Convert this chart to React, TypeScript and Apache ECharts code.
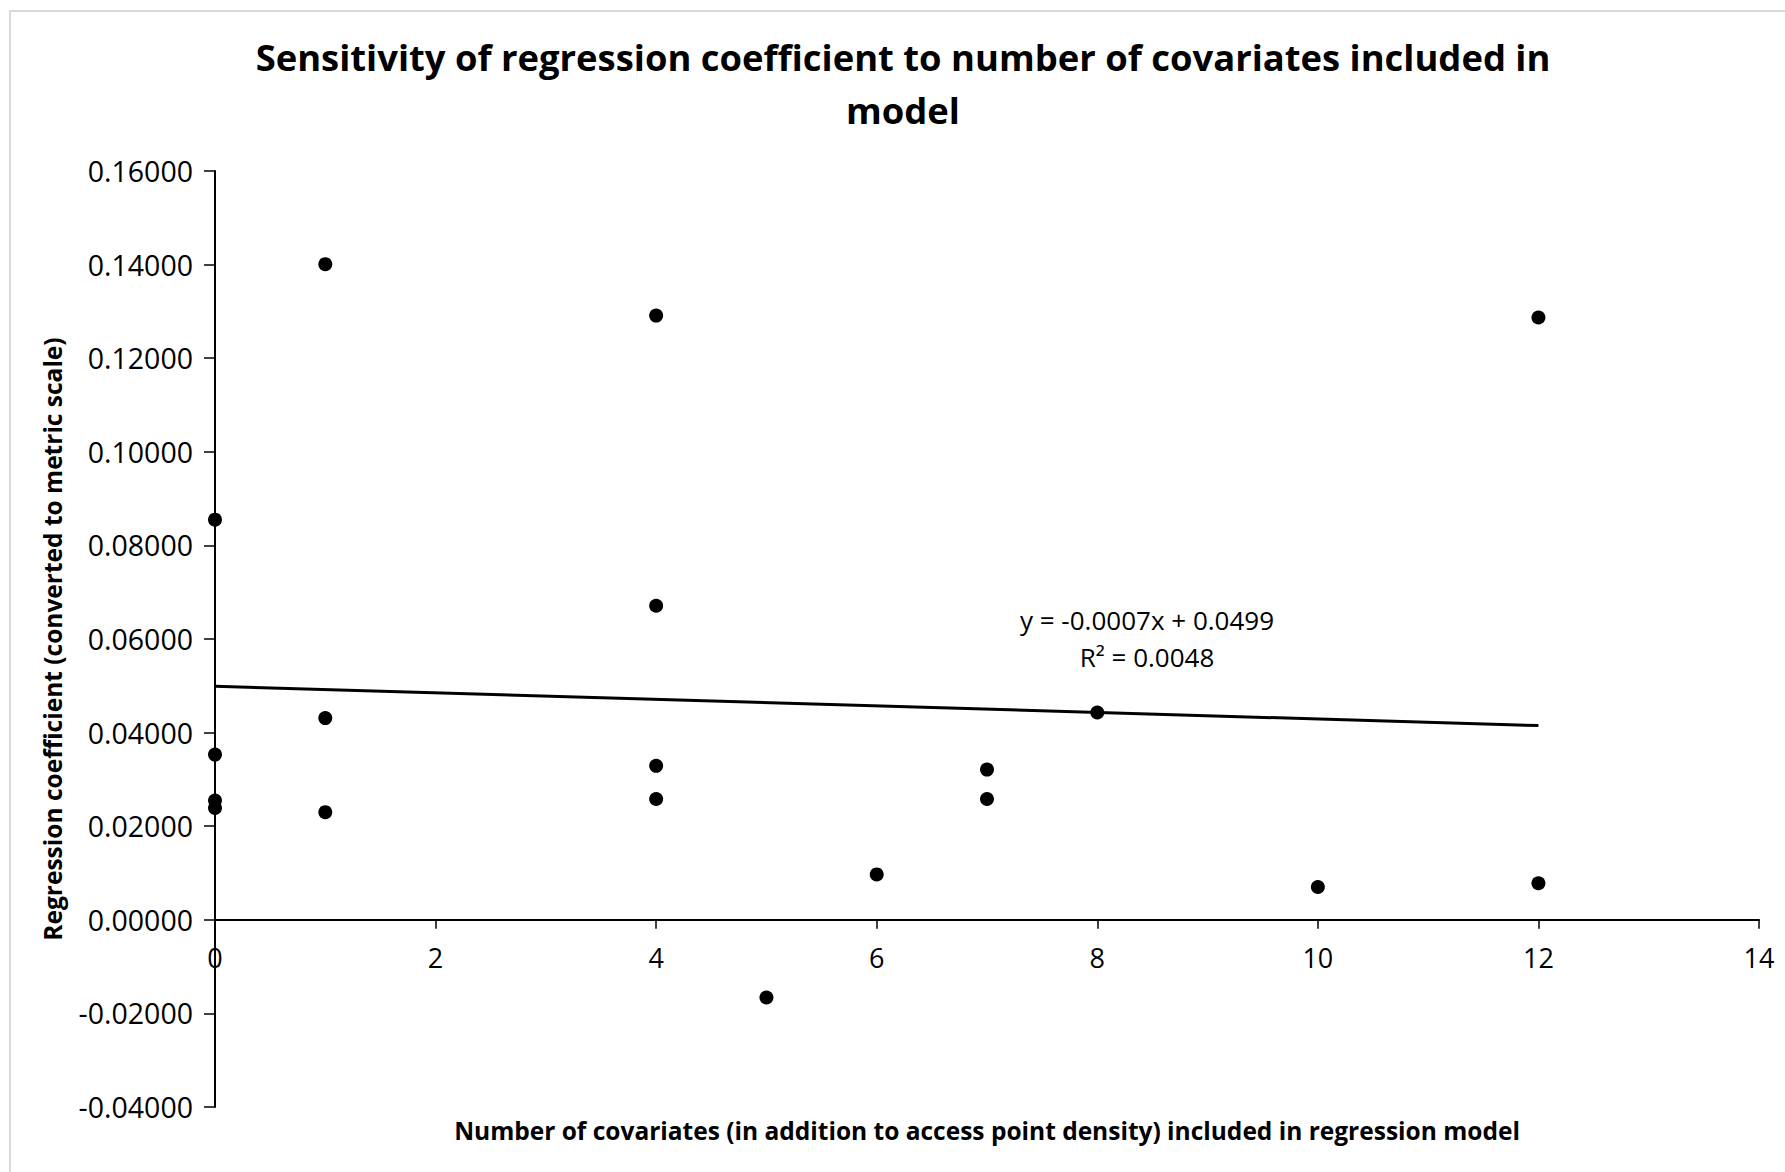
import React, { useEffect, useRef } from "react";
import * as echarts from "echarts";

const TITLE = "Sensitivity of regression coefficient to number of covariates included in\nmodel";
const X_NAME = "Number of covariates (in addition to access point density) included in regression model";
const Y_NAME = "Regression coefficient (converted to metric scale)";

const covariates = [0, 0, 0, 0, 1, 1, 1, 4, 4, 4, 4, 5, 6, 7, 7, 8, 10, 12, 12];
const coefficients = [
  0.0855, 0.0353, 0.0255, 0.0239,
  0.1401, 0.0431, 0.0230,
  0.1291, 0.0671, 0.0329, 0.0258,
  -0.0166,
  0.0097,
  0.0321, 0.0258,
  0.0443,
  0.0070,
  0.1287, 0.0078,
];

const Y_MIN = -0.04;
const Y_MAX = 0.16;
const Y_STEP = 0.02;
const X_MIN = 0;
const X_MAX = 14;
const X_STEP = 2;

const TREND_SLOPE = -0.0007;
const TREND_INTERCEPT = 0.0499;
const TREND_X = [0, 12];
const EQUATION_LINES = ["y = -0.0007x + 0.0499", "R² = 0.0048"];

const FONT = "'Open Sans', 'Noto Sans', sans-serif";

export default function App() {
  const ref = useRef<HTMLDivElement>(null);
  useEffect(() => {
    if (!ref.current) return;
    const chart = echarts.init(ref.current, undefined, { renderer: "svg" });
    const points = covariates.map((x, i) => [x, coefficients[i]]);
    const trend = TREND_X.map((x) => [x, TREND_INTERCEPT + TREND_SLOPE * x]);
    chart.setOption({
      animation: false,
      backgroundColor: "#ffffff",
      title: {
        text: TITLE,
        left: 898,
        top: 25,
        textAlign: "center",
        textStyle: {
          fontFamily: FONT,
          fontWeight: "bold",
          fontSize: 36.4,
          lineHeight: 53,
          color: "#000",
        },
      },
      graphic: [
        {
          type: "rect",
          shape: { x: 10, y: 11, width: 1800, height: 1200 },
          style: { fill: "none", stroke: "#d9d9d9", lineWidth: 2 },
          silent: true,
        },
        {
          type: "text",
          x: 1147,
          y: 620,
          style: {
            text: EQUATION_LINES[0],
            fontFamily: FONT,
            fontSize: 26,
            fill: "#000",
            align: "center",
            verticalAlign: "middle",
          },
        },
        {
          type: "text",
          x: 1147,
          y: 657,
          style: {
            text: EQUATION_LINES[1],
            fontFamily: FONT,
            fontSize: 26,
            fill: "#000",
            align: "center",
            verticalAlign: "middle",
          },
        },
      ],
      grid: {
        left: 215,
        right: 26,
        top: 171,
        bottom: 65,
        containLabel: false,
        outerBoundsMode: "none",
      },
      xAxis: {
        type: "value",
        min: X_MIN,
        max: X_MAX,
        interval: X_STEP,
        offset: 0,
        name: X_NAME,
        nameLocation: "middle",
        nameGap: 198,
        nameMoveOverlap: false,
        nameTextStyle: { fontFamily: FONT, fontWeight: "bold", fontSize: 24.5, color: "#000" },
        axisLine: { onZero: false, lineStyle: { color: "#000", width: 2 } },
        axisTick: { show: true, length: 9, lineStyle: { color: "#000", width: 1.5 } },
        axisLabel: { fontFamily: FONT, fontSize: 27, color: "#000", margin: 24 },
        splitLine: { show: false },
      },
      yAxis: {
        type: "value",
        min: Y_MIN,
        max: Y_MAX,
        interval: Y_STEP,
        name: Y_NAME,
        nameLocation: "middle",
        nameGap: 150,
        nameRotate: 90,
        nameMoveOverlap: false,
        nameTextStyle: { fontFamily: FONT, fontWeight: "bold", fontSize: 24.5, color: "#000" },
        axisLine: { onZero: false, lineStyle: { color: "#000", width: 2 } },
        axisTick: { show: true, length: 11, lineStyle: { color: "#000", width: 1.5 } },
        axisLabel: {
          fontFamily: FONT,
          fontSize: 28.5,
          color: "#000",
          margin: 22,
          formatter: (v: number) => v.toFixed(5),
        },
        splitLine: { show: false },
      },
      series: [
        {
          type: "line",
          data: trend,
          symbol: "none",
          lineStyle: { color: "#000", width: 3 },
          z: 2,
        },
        {
          type: "scatter",
          data: points,
          symbol: "circle",
          symbolSize: 14,
          itemStyle: { color: "#000", opacity: 1 },
          z: 3,
        },
      ],
    });
    // Move the whole x axis (line, ticks, labels, name) up to the y = 0 line.
    const zeroY = chart.convertToPixel({ yAxisIndex: 0 }, 0) as number;
    const bottomY = chart.convertToPixel({ yAxisIndex: 0 }, Y_MIN) as number;
    if (isFinite(zeroY) && isFinite(bottomY)) {
      chart.setOption({ xAxis: { offset: zeroY - bottomY } });
    }
    return () => chart.dispose();
  }, []);
  return (
    <div
      ref={ref}
      style={{ position: "fixed", left: 0, top: 0, width: 1785, height: 1172 }}
    />
  );
}
